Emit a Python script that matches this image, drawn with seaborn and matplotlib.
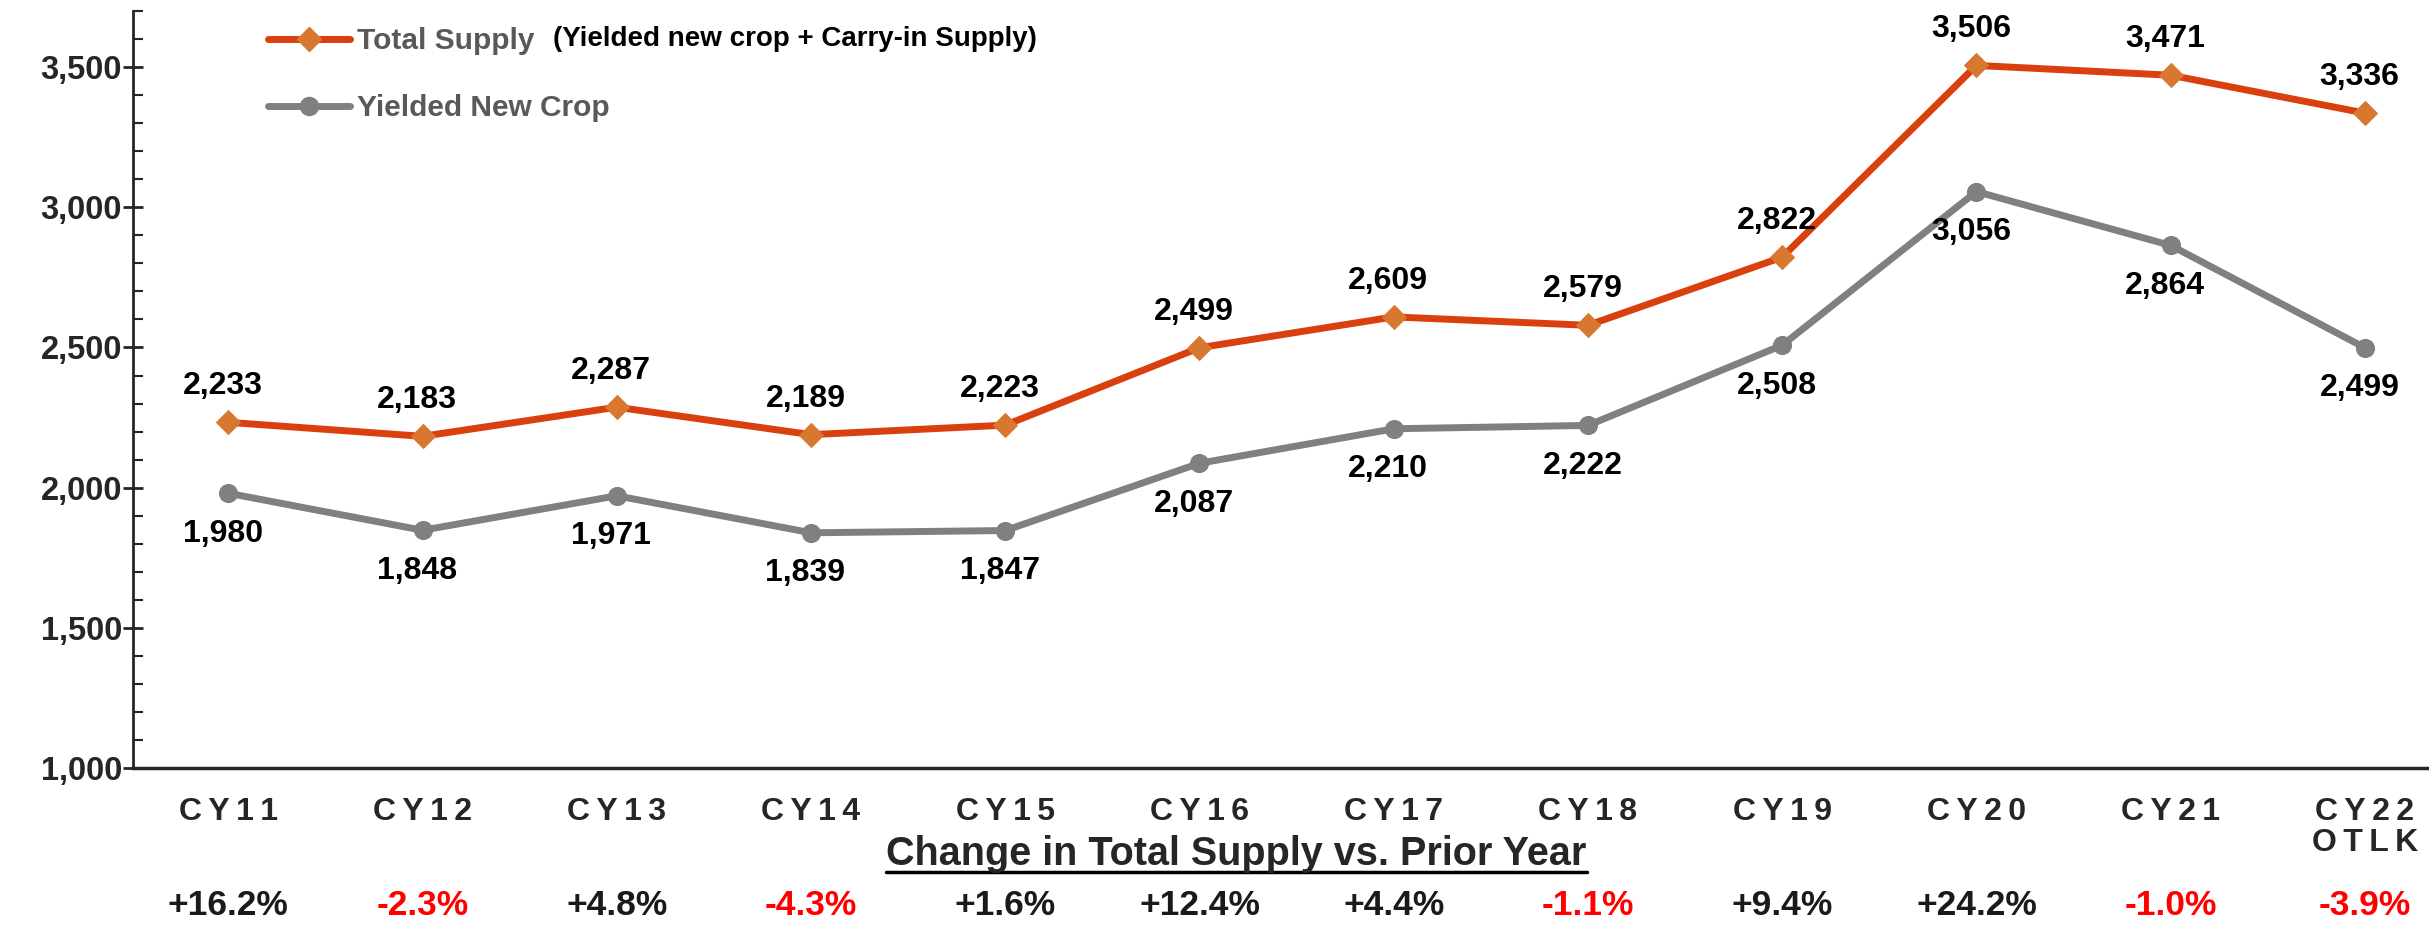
import numpy as np
import pandas as pd
import matplotlib
matplotlib.use("Agg")
import matplotlib.pyplot as plt
import seaborn as sns
from matplotlib.lines import Line2D
from matplotlib.ticker import MultipleLocator, FuncFormatter

# data
years = ["CY11", "CY12", "CY13", "CY14", "CY15", "CY16", "CY17", "CY18", "CY19", "CY20", "CY21", "CY22\nOTLK"]
total_supply = [2233, 2183, 2287, 2189, 2223, 2499, 2609, 2579, 2822, 3506, 3471, 3336]
new_crop = [1980, 1848, 1971, 1839, 1847, 2087, 2210, 2222, 2508, 3056, 2864, 2499]
pct_change = ["+16.2%", "-2.3%", "+4.8%", "-4.3%", "+1.6%", "+12.4%", "+4.4%", "-1.1%", "+9.4%", "+24.2%", "-1.0%", "-3.9%"]

df = pd.DataFrame({"x": np.arange(len(years)), "total": total_supply, "crop": new_crop})

sns.set_style("ticks")
plt.rcParams["font.family"] = ["Liberation Sans", "DejaVu Sans"]
plt.rcParams["font.weight"] = "bold"

fig = plt.figure(figsize=(24.29, 9.26), dpi=100)
ax = fig.add_axes([0.0548, 0.1706, 0.9452, 0.8175])

orange = "#D9400E"
orange_mk = "#D87830"
gray = "#808080"

sns.lineplot(data=df, x="x", y="total", ax=ax, color=orange, lw=5, marker="D",
             markersize=12, markerfacecolor=orange_mk, markeredgecolor=orange_mk)
sns.lineplot(data=df, x="x", y="crop", ax=ax, color=gray, lw=5, marker="o",
             markersize=13, markerfacecolor=gray, markeredgecolor=gray)

for i in range(len(years)):
    ax.annotate(f"{total_supply[i]:,}", (i, total_supply[i]), xytext=(-4, 26),
                textcoords="offset points", ha="center", va="center",
                fontsize=23, fontweight="bold", color="black")
    ax.annotate(f"{new_crop[i]:,}", (i, new_crop[i]), xytext=(-4, -29),
                textcoords="offset points", ha="center", va="center",
                fontsize=23, fontweight="bold", color="black")

ax.set_xlim(-0.49, 11.33)
ax.set_ylim(1000, 3700)
ax.yaxis.set_major_locator(MultipleLocator(500))
ax.yaxis.set_minor_locator(MultipleLocator(100))
ax.yaxis.set_major_formatter(FuncFormatter(lambda v, p: f"{int(v):,}" if v <= 3500 else ""))
ax.tick_params(axis="y", which="major", direction="inout", length=14, width=2,
               labelsize=23.5, pad=1)
ax.tick_params(axis="y", which="minor", direction="in", length=7, width=1.5)

# letter-spaced category labels
ts = "\u2009"
ax.set_xticks(range(len(years)))
ax.set_xticklabels(["\n".join(ts.join(part) for part in y.split("\n")) for y in years],
                   fontsize=23, fontweight="bold", linespacing=1.05)
ax.tick_params(axis="x", length=0, pad=21)
for lab in ax.get_yticklabels():
    lab.set_fontweight("bold")
ax.set_xlabel("")
ax.set_ylabel("")
for s in ["top", "right"]:
    ax.spines[s].set_visible(False)
ax.spines["left"].set_linewidth(2)
ax.spines["bottom"].set_linewidth(2.5)

# legend
handles = [Line2D([], [], color=orange, lw=5, marker="D", markersize=12,
                  markerfacecolor=orange_mk, markeredgecolor=orange_mk),
           Line2D([], [], color=gray, lw=5, marker="o", markersize=13,
                  markerfacecolor=gray, markeredgecolor=gray)]
leg = ax.legend(handles, ["Total Supply", "Yielded New Crop"], loc="upper left",
                bbox_to_anchor=(0.047, 1.014), frameon=False, handlelength=2.75,
                handletextpad=0.25, labelspacing=1.3,
                prop={"weight": "bold", "size": 21.5})
for t in leg.get_texts():
    t.set_color("#595959")
fig.text(0.2275, 0.958, "(Yielded new crop + Carry-in Supply)", fontsize=20,
         fontweight="bold", color="black", va="center", ha="left")

# change row
title = fig.text(0.509, 0.078, "Change in Total Supply vs. Prior Year", fontsize=28.5,
                 fontweight="bold", ha="center", va="center")
fig.canvas.draw()
bb = title.get_window_extent().transformed(fig.transFigure.inverted())
fig.add_artist(Line2D([bb.x0, bb.x1], [bb.y0 + 0.001, bb.y0 + 0.001],
                      transform=fig.transFigure, color="black", lw=2.5))

trans = matplotlib.transforms.blended_transform_factory(ax.transData, fig.transFigure)
for i, p in enumerate(pct_change):
    col = "#FF0000" if p.startswith("-") else "#1A1A1A"
    ax.text(i, 0.022, p, transform=trans, ha="center", va="center", fontsize=25.5,
            fontweight="bold", color=col)

fig.savefig("out.png", dpi=100)
